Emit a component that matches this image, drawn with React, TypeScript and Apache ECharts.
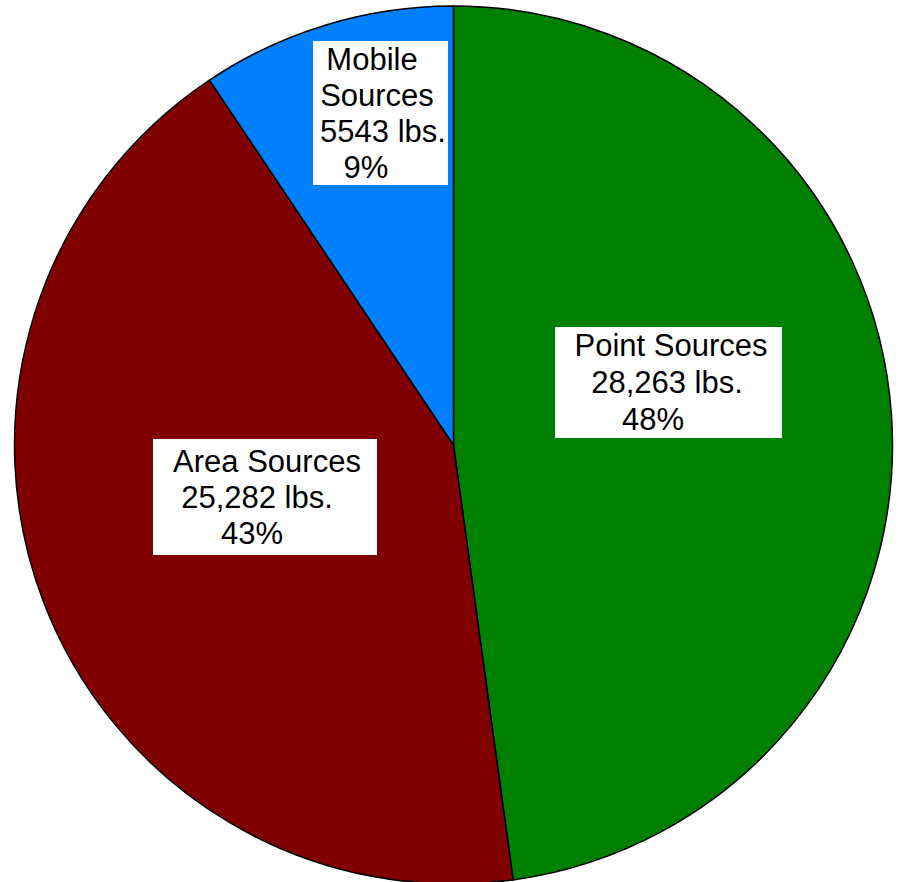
import React, { useEffect, useRef } from "react";
import * as echarts from "echarts";

// ---- data ----
const categories = ["Point Sources", "Area Sources", "Mobile Sources"];
const valuesLbs = [28263, 25282, 5543];
const valueTexts = ["28,263 lbs.", "25,282 lbs.", "5543 lbs."];
const percentTexts = ["48%", "43%", "9%"];
const nameLines = [["Point Sources"], ["Area Sources"], ["Mobile", "Sources"]];

// ---- styles / layout ----
const colors = ["#008000", "#800000", "#0080ff"];
const labelCenters = [
  [668.5, 382.5],
  [265, 497],
  [380.5, 113],
];
const labelWidths = [227, 224, 135];
const lineHeights = [37, 36, 36];
const vPads = [
  [0, 0],
  [4, 4],
  [0, 0],
];
const lineShifts = [
  [2.5, -1.5, -15.5],
  [2, -8, -13],
  [-8.5, -3.5, 2.5, -14.5],
];

const FONT = '"Liberation Sans", Arial, sans-serif';

export default function App() {
  const ref = useRef<HTMLDivElement>(null);

  useEffect(() => {
    if (!ref.current) return;
    const chart = echarts.init(ref.current, undefined, { renderer: "svg" });

    const data = categories.map((name, i) => {
      const lines = [...nameLines[i], valueTexts[i], percentTexts[i]];
      const rich: Record<string, any> = {};
      const parts = lines.map((txt, k) => {
        const key = `l${k}`;
        const s = lineShifts[i][k] || 0;
        rich[key] = {
          fontFamily: FONT,
          fontSize: 31,
          color: "#000",
          lineHeight: lineHeights[i],
          align: "center",
          padding: [0, s < 0 ? -2 * s : 0, 0, s > 0 ? 2 * s : 0],
        };
        return `{${key}|${txt}}`;
      });
      return {
        name,
        value: valuesLbs[i],
        itemStyle: { color: colors[i] },
        label: {
          formatter: parts.join("\n"),
          rich,
          width: labelWidths[i],
          lineHeight: lineHeights[i],
          padding: [vPads[i][0], 0, vPads[i][1], 0],
        },
      };
    });

    chart.setOption({
      animation: false,
      backgroundColor: "#ffffff",
      series: [
        {
          type: "pie",
          center: [453.5, 445],
          radius: [0, 439],
          startAngle: 90,
          clockwise: true,
          avoidLabelOverlap: false,
          silent: true,
          itemStyle: { borderColor: "#000", borderWidth: 1.5 },
          label: {
            show: true,
            position: "inside",
            backgroundColor: "#ffffff",
            color: "#000",
            fontFamily: FONT,
            fontSize: 31,
            align: "center",
            verticalAlign: "middle",
            overflow: "none",
          },
          labelLine: { show: false },
          labelLayout: (params: any) => ({
            x: labelCenters[params.dataIndex][0],
            y: labelCenters[params.dataIndex][1],
            align: "center",
            verticalAlign: "middle",
          }),
          emphasis: { disabled: true },
          data,
        },
      ],
    });

    return () => chart.dispose();
  }, []);

  return (
    <div
      ref={ref}
      style={{ position: "fixed", left: 0, top: 0, width: 898, height: 882 }}
    />
  );
}
